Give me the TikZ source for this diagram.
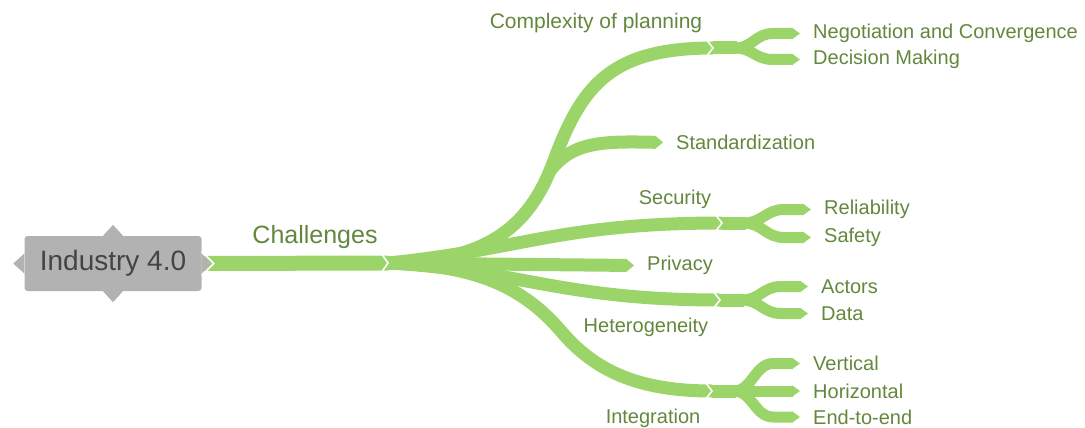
\documentclass[tikz,border=0pt]{standalone}
\usepackage{fontspec}
\setmainfont{Liberation Sans}
\usetikzlibrary{
    arrows.meta,
    calc,
    positioning
}
\definecolor{branchgreen}{RGB}{155,213,105}
\definecolor{labelgreen}{RGB}{100,135,62}
\definecolor{rootgray}{RGB}{178,178,178}
\definecolor{roottext}{RGB}{68,68,68}
\tikzset{
    trunk/.style={draw=branchgreen, line width=15pt},
    branch/.style={draw=branchgreen, line width=13pt},
    twig/.style={draw=branchgreen, line width=11pt},
    tipped/.style={-{Triangle[length=8pt, width=0pt 1]}},
    gap/.style={draw=white, line width=1.6pt},
    leaftext/.style={text=labelgreen, font=\fontsize{20}{24}\selectfont, inner sep=0pt, yshift=-1.5pt},
    rootbox/.style={fill=rootgray, rounded corners=3pt, minimum width=177pt,
        minimum height=55pt, text=roottext, font=\fontsize{28}{32}\selectfont}
}
% white chevron between two segments
\newcommand{\jointmark}[2]{\draw[gap] ($(#1)+(-7,-#2)$) -- (#1) -- ($(#1)+(-7,#2)$);}

\begin{document}
\begin{tikzpicture}[x=1pt, y=-1pt]
    \useasboundingbox (0,0) rectangle (1085,428);
    % junctions
    \coordinate (j0) at (388,263);
    \coordinate (jplan) at (713,48);
    \coordinate (jstd) at (549,172);
    \coordinate (jsec) at (722,223);
    \coordinate (jhet) at (720,300);
    \coordinate (jint) at (712,391);

    % texts
    \node[leaftext, font=\fontsize{25}{29}\selectfont] (chal) at (315,236) {Challenges};
    \node[leaftext, font=\fontsize{21}{25}\selectfont] (plan) at (596,22) {Complexity of planning};
    \node[leaftext, anchor=west] (std) at (676,141) {Standardization};
    \node[leaftext] (sec) at (675,198) {Security};
    \node[leaftext, anchor=west] (priv) at (647,264) {Privacy};
    \node[leaftext] (het) at (646,326) {Heterogeneity};
    \node[leaftext] (int) at (653,417) {Integration};
    \node[leaftext, anchor=west] (nego) at (813,32) {Negotiation and Convergence};
    \node[leaftext, anchor=west] (deci) at (813,58) {Decision Making};
    \node[leaftext, anchor=west] (reli) at (824,208) {Reliability};
    \node[leaftext, anchor=west] (safe) at (824,236) {Safety};
    \node[leaftext, anchor=west] (acto) at (821,285) {Actors};
    \node[leaftext, anchor=west] (data) at (821,312) {Data};
    \node[leaftext, anchor=west] (vert) at (813,362) {Vertical};
    \node[leaftext, anchor=west] (hori) at (813,389.5) {Horizontal};
    \node[leaftext, anchor=west] (ende) at (813,415.5) {End-to-end};

    % first level
    \draw[branch] (j0) .. controls (500,262) and (535,215) .. (556,155)
        .. controls (583,85) and (612,48) .. (jplan);
    \draw[branch, tipped] (jstd) .. controls (572,142) and (600,141) .. ($(std.west)+(-13,0)$);
    \draw[branch] (j0) .. controls (520,250) and (560,223) .. (jsec);
    \draw[branch, tipped] (j0) -- ($(priv.west)+(-13,0)$);
    \draw[branch] (j0) .. controls (520,270) and (560,300) .. (jhet);
    \draw[branch] (j0) .. controls (480,265) and (525,290) .. (560,330)
        .. controls (595,372) and (640,391) .. (jint);

    % second level
    \foreach \j/\leaf in {jplan/nego, jplan/deci, jsec/reli, jsec/safe, jhet/acto, jhet/data, jint/vert, jint/ende} {
        \draw[branch] (\j) -- ++(24,0);
        \draw[twig, tipped] ($(\j)+(22,0)$) .. controls +(18,0) and +(-18,0) .. ($(\leaf.west)+(-40,0)$)
            -- ($(\leaf.west)+(-13,0)$);
    }
    \draw[twig, tipped] (jint) -- ($(hori.west)+(-13,0)$);

    % root
    \node[rootbox] (root) at (113,263.5) {Industry 4.0};
    \draw[trunk] (root.east) -- (j0);
    \fill[rootgray] ($(root.north)+(-10,0)$) -- ($(root.north)+(0,-11)$) -- ($(root.north)+(10,0)$) -- cycle;
    \fill[rootgray] ($(root.south)+(-10,0)$) -- ($(root.south)+(0,11)$) -- ($(root.south)+(10,0)$) -- cycle;
    \fill[rootgray] ($(root.west)+(0,-10)$) -- ($(root.west)+(-11,0)$) -- ($(root.west)+(0,10)$) -- cycle;
    \fill[rootgray] ($(root.east)+(0,-10)$) -- ($(root.east)+(10,0)$) -- ($(root.east)+(0,10)$) -- cycle;
    \draw[gap] ($(root.east)+(0,-12)$) -- ($(root.east)+(12,0)$) -- ($(root.east)+(0,12)$);

    % joints
    \jointmark{j0}{10}
    \jointmark{jplan}{9}
    \jointmark{jsec}{9}
    \jointmark{jhet}{9}
    \jointmark{jint}{9}
\end{tikzpicture}
\end{document}
